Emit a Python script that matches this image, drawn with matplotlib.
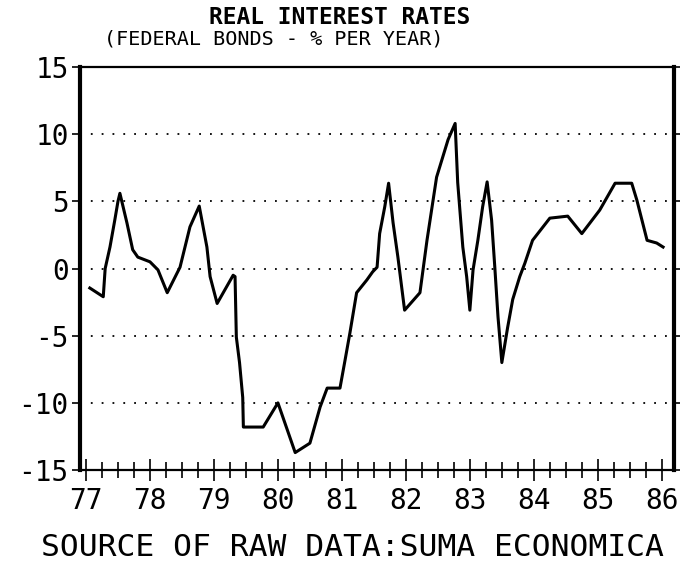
import numpy as np
import matplotlib
matplotlib.use("Agg")
import matplotlib.pyplot as plt
from matplotlib.ticker import MultipleLocator

# Values (year as decimal, % per year)
years = [77.06, 77.27, 77.30, 77.375, 77.45, 77.50, 77.53, 77.64, 77.73, 77.81,
         78.00, 78.125, 78.27, 78.47, 78.625, 78.77, 78.89, 78.94, 79.05, 79.30,
         79.33, 79.35, 79.40, 79.45, 79.46, 79.77, 80.00, 80.27, 80.50, 80.66,
         80.77, 80.97, 81.05, 81.125, 81.23, 81.39, 81.48, 81.55, 81.59, 81.67,
         81.73, 81.80, 81.875, 81.94, 81.98, 82.22, 82.33, 82.48, 82.66, 82.77,
         82.81, 82.89, 82.95, 83.00, 83.05, 83.125, 83.20, 83.27, 83.34, 83.39,
         83.44, 83.47, 83.50, 83.59, 83.67, 83.78, 83.86, 83.98, 84.25, 84.53,
         84.75, 85.03, 85.27, 85.53, 85.61, 85.77, 85.92, 86.02]
rates = [-1.45, -2.1, 0.0, 1.6, 3.6, 5.0, 5.6, 3.4, 1.4, 0.85,
         0.5, -0.1, -1.8, 0.1, 3.1, 4.65, 1.6, -0.6, -2.6, -0.5,
         -0.6, -5.1, -7.0, -9.6, -11.8, -11.8, -10.0, -13.7, -13.0, -10.3,
         -8.9, -8.9, -6.8, -4.8, -1.8, -0.85, -0.25, 0.1, 2.6, 4.6,
         6.35, 3.4, 0.86, -1.6, -3.1, -1.8, 2.1, 6.8, 9.6, 10.8,
         6.4, 1.6, -0.6, -3.1, -0.1, 2.1, 4.6, 6.45, 3.6, 0.1,
         -3.6, -5.3, -7.0, -4.4, -2.3, -0.6, 0.4, 2.1, 3.75, 3.9,
         2.6, 4.35, 6.35, 6.35, 5.1, 2.1, 1.9, 1.6]

year_ticks = list(range(77, 87))
year_labels = [str(y) for y in year_ticks]
rate_ticks = [-15, -10, -5, 0, 5, 10, 15]
grid_levels = [-10, -5, 0, 5, 10]

title = "REAL INTEREST RATES"
subtitle = "(FEDERAL BONDS - % PER YEAR)"
source = "SOURCE OF RAW DATA:SUMA ECONOMICA"

mono = "DejaVu Sans Mono"

fig = plt.figure(figsize=(6.8, 5.67), dpi=100)
ax = fig.add_axes([0.1176, 0.171, 0.8735, 0.7108])

# dotted horizontal grid
for lvl in grid_levels:
    ax.axhline(lvl, color="black", lw=1.3, linestyle=(0, (1, 5)), zorder=1)

ax.plot(years, rates, color="black", lw=2.2, zorder=3)

ax.set_xlim(76.906, 86.19)
ax.set_ylim(-15, 15)

ax.set_xticks(year_ticks)
ax.set_xticklabels(year_labels, fontfamily=mono, fontsize=20)
ax.xaxis.set_minor_locator(MultipleLocator(0.25))
ax.tick_params(axis="x", which="major", direction="inout", length=16, width=1.2, pad=4)
ax.tick_params(axis="x", which="minor", direction="inout", length=12, width=1.2)

ax.set_yticks(rate_ticks)
ax.set_yticklabels([str(v) for v in rate_ticks], fontfamily=mono, fontsize=20)
ax.tick_params(axis="y", direction="out", length=6, width=1.2, pad=2, right=True)

ax.spines["left"].set_linewidth(3.0)
ax.spines["right"].set_linewidth(3.0)
ax.spines["bottom"].set_linewidth(1.6)
ax.spines["top"].set_linewidth(1.6)

fig.text(0.5, 0.970, title, ha="center", va="center", fontfamily=mono,
         fontsize=16.5, fontweight="bold")
fig.text(0.403, 0.931, subtitle, ha="center", va="center", fontfamily=mono,
         fontsize=14.5)
fig.text(0.518, 0.034, source, ha="center", va="center", fontfamily=mono,
         fontsize=22.6)

fig.savefig("out.png", dpi=100, facecolor="white")
